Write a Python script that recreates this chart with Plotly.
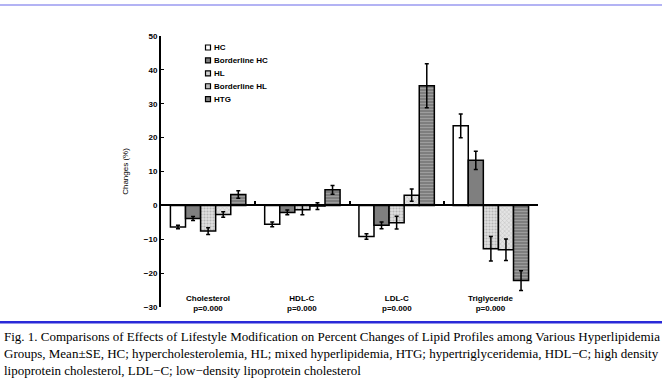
import plotly.graph_objects as go

categories = ["Cholesterol", "HDL-C", "LDL-C", "Triglyceride"]
p_labels = ["p=0.000", "p=0.000", "p=0.000", "p=0.000"]
groups = ["HC", "Borderline HC", "HL", "Borderline HL", "HTG"]

means = {
    "HC":            [-6.4, -5.6, -9.2, 23.5],
    "Borderline HC": [-3.9, -2.1, -5.9, 13.3],
    "HL":            [-7.6, -1.3, -5.1, -12.8],
    "Borderline HL": [-2.7, -0.2, 3.0, -13.1],
    "HTG":           [3.2, 4.6, 35.3, -22.2],
}
errors = {
    "HC":            [0.5, 0.7, 0.8, 3.5],
    "Borderline HC": [0.6, 0.7, 1.0, 2.7],
    "HL":            [1.0, 1.5, 1.9, 3.6],
    "Borderline HL": [0.8, 1.0, 1.8, 3.2],
    "HTG":           [1.1, 1.3, 6.5, 2.9],
}

y_ticks = [-30, -20, -10, 0, 10, 20, 30, 40, 50]

caption_lines = [
    "Fig. 1. Comparisons of Effects of Lifestyle Modification on Percent Changes of Lipid Profiles among Various Hyperlipidemia",
    "Groups, Mean\u00b1SE, HC; hypercholesterolemia, HL; mixed hyperlipidemia, HTG; hypertriglyceridemia, HDL\u2212C; high density",
    "lipoprotein cholesterol, LDL\u2212C; low\u2212density lipoprotein cholesterol",
]

styles = {
    "HC": dict(color="#ffffff", pattern=dict(shape="")),
    "Borderline HC": dict(color="#7f7f7f", pattern=dict(shape="")),
    "HL": dict(color="#d8d8d8", pattern=dict(shape=".", fgcolor="#8a8a8a", bgcolor="#e0e0e0", size=3, solidity=0.4)),
    "Borderline HL": dict(color="#d0d0d0", pattern=dict(shape="x", fgcolor="#9a9a9a", bgcolor="#e4e4e4", size=3, solidity=0.3)),
    "HTG": dict(color="#8a8a8a", pattern=dict(shape="-", fgcolor="#c0c0c0", bgcolor="#7a7a7a", size=3, solidity=0.4)),
}
swatch_colors = {"HC": "#ffffff", "Borderline HC": "#7f7f7f", "HL": "#d0d0d0",
                 "Borderline HL": "#bdbdbd", "HTG": "#808080"}

# pixel -> paper helpers (plot area: x 161..538, y 36..306.7)
def px(xp):
    return (xp - 161) / 377.0

def py(yp):
    return (306.7 - yp) / 270.7

fig = go.Figure()
for g in groups:
    st = styles[g]
    fig.add_trace(go.Bar(
        name=g, x=categories, y=means[g],
        marker=dict(color=st["color"], pattern=st["pattern"],
                    line=dict(color="#000000", width=1.5)),
        error_y=dict(type="data", array=errors[g], visible=True,
                     color="#000000", thickness=1.5, width=2),
    ))

font_b = dict(family="Liberation Sans, Arial", size=8, color="#000000", weight="bold")

annotations = []
shapes = []
for c, p in zip(categories, p_labels):
    annotations.append(dict(x=c, y=-30, xref="x", yref="y", text=c + "<br>" + p,
                            showarrow=False, yanchor="middle", yshift=4, font=font_b))
for line, yp in zip(caption_lines, [336, 353, 370]):
    annotations.append(dict(x=px(2), y=py(yp), xref="paper", yref="paper",
                            text=line, showarrow=False, xanchor="left", yanchor="middle",
                            font=dict(family="Liberation Serif, Times New Roman", size=13, color="#000000")))

# compact legend (matches the reference's small legend)
for i, g in enumerate(groups):
    yc = 47.5 + i * 12.9
    shapes.append(dict(type="rect", xref="paper", yref="paper",
                       x0=px(205.5), x1=px(210.5), y0=py(yc + 2.5), y1=py(yc - 2.5),
                       fillcolor=swatch_colors[g], line=dict(color="#000000", width=1.2)))
    annotations.append(dict(x=px(211.5), y=py(yc), xref="paper", yref="paper", text=g,
                            showarrow=False, xanchor="left", yanchor="middle", font=font_b))

shapes += [
    dict(type="line", xref="paper", yref="paper", x0=px(0), x1=px(662),
         y0=py(5), y1=py(5), line=dict(color="#9a9af0", width=1.5)),
    dict(type="line", xref="paper", yref="paper", x0=px(0), x1=px(662),
         y0=py(322), y1=py(322), line=dict(color="#2a2ad8", width=2.5)),
]

fig.update_layout(
    width=664, height=390,
    margin=dict(l=161, r=126, t=36, b=83.3),
    paper_bgcolor="#ffffff", plot_bgcolor="#ffffff",
    barmode="group", bargap=0.2, bargroupgap=0,
    showlegend=False,
    xaxis=dict(type="category", anchor="free", position=30 / 80, showline=True,
               linecolor="#000000", linewidth=2, ticks="inside", tickson="boundaries",
               ticklen=3, tickwidth=1.5, tickcolor="#000000", showticklabels=False,
               showgrid=False, zeroline=False),
    yaxis=dict(range=[-30, 50], tickvals=y_ticks, showline=True, linecolor="#000000",
               linewidth=2, ticks="inside", ticklen=3, tickwidth=1, tickcolor="#000000",
               showgrid=False, zeroline=False, tickfont=font_b,
               title=dict(text="Changes (%)", font=dict(family="Liberation Sans, Arial", size=8, color="#000000"),
                          standoff=14)),
    annotations=annotations, shapes=shapes,
)

fig.write_html("out.html", config={"displayModeBar": False},
               post_script="document.body.style.margin='0';document.body.style.padding='0';")
